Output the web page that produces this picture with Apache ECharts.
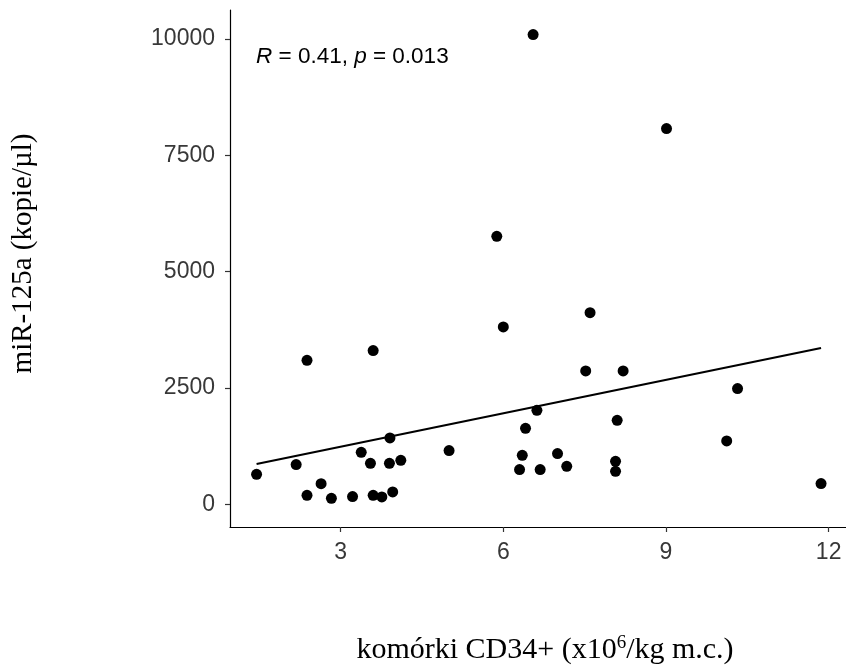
<!DOCTYPE html>
<html>
<head>
<meta charset="utf-8">
<script src="https://cdn.jsdelivr.net/npm/echarts@6/dist/echarts.min.js"></script>
<style>html,body{margin:0;padding:0;background:#fff}#c{width:846px;height:670px}</style>
</head>
<body>
<div id="c"></div>
<script>
// CD34+ cells (x10^6/kg) and miR-125a (copies/µl)
const cd34 = [1.45, 2.18, 2.38, 2.38, 2.64, 2.83, 3.22, 3.38, 3.55, 3.60, 3.60, 3.76, 3.90, 3.91, 3.96, 4.11, 5.00, 5.88, 6.00, 6.30, 6.35, 6.41, 6.55, 6.62, 6.68, 7.00, 7.17, 7.52, 7.60, 8.07, 8.07, 8.10, 8.21, 9.01, 10.12, 10.32, 11.86];
const mir125a = [645, 853, 3095, 193, 444, 129, 165, 1118, 881, 3304, 193, 158, 881, 1426, 265, 946, 1154, 5761, 3812, 746, 1053, 1634, 10097, 2021, 746, 1090, 817, 2866, 4120, 924, 709, 1806, 2866, 8076, 1361, 2487, 445];
// regression line endpoints
const fitX = [1.45, 11.86];
const fitY = [867, 3360];
const xTicks = [3, 6, 9, 12];
const yTicks = [0, 2500, 5000, 7500, 10000];
const annotation = ['R', ' = 0.41, ', 'p', ' = 0.013'];

const points = cd34.map((x, i) => [x, mir125a[i]]);
const fitLine = fitX.map((x, i) => [x, fitY[i]]);

const chart = echarts.init(document.getElementById('c'), null, {renderer: 'canvas'});
const sans = 'Liberation Sans, Arial, sans-serif';
const serif = 'Liberation Serif, Times New Roman, serif';
chart.setOption({
  animation: false,
  backgroundColor: '#fff',
  grid: {left: 230, right: 0, top: 10, bottom: 143, outerBoundsMode: 'none', containLabel: false},
  xAxis: {
    type: 'value', min: 0.96, max: 12.32,
    axisLine: {show: true, onZero: false, lineStyle: {color: '#000', width: 1.2}},
    axisTick: {show: true, length: 5, lineStyle: {color: '#333', width: 1.2}, customValues: xTicks},
    axisLabel: {customValues: xTicks, margin: 14, fontSize: 23, fontFamily: sans, color: '#383838',
      formatter: v => String(v)},
    splitLine: {show: false},
    name: '{a|komórki CD34+ (x10}{s|6}{a|/kg m.c.)}',
    nameLocation: 'middle', nameGap: 106,
    nameTextStyle: {
      padding: [0, 0, 0, 14],
      rich: {
        a: {fontSize: 30, fontFamily: serif, color: '#000', lineHeight: 34},
        s: {fontSize: 19, fontFamily: serif, color: '#000', lineHeight: 34, padding: [0, 0, 14, 0]}
      }
    }
  },
  yAxis: {
    type: 'value', min: -488, max: 10625,
    axisLine: {show: true, onZero: false, lineStyle: {color: '#000', width: 1.2}},
    axisTick: {show: true, length: 5, lineStyle: {color: '#333', width: 1.2}, customValues: yTicks},
    axisLabel: {customValues: yTicks, margin: 15, fontSize: 23, fontFamily: sans, color: '#383838',
      formatter: v => String(v)},
    splitLine: {show: false},
    name: 'miR-125a (kopie/µl)',
    nameLocation: 'middle', nameGap: 192, nameRotate: 90,
    nameTextStyle: {fontSize: 29, fontFamily: serif, color: '#000', padding: [0, 0, 0, 30]}
  },
  graphic: [{
    type: 'text', left: 256, top: 45,
    style: {
      text: '{i|' + annotation[0] + '}{n|' + annotation[1] + '}{i|' + annotation[2] + '}{n|' + annotation[3] + '}',
      rich: {
        i: {fontSize: 22.5, fontFamily: sans, fontStyle: 'italic', fill: '#000'},
        n: {fontSize: 22.5, fontFamily: sans, fill: '#000'}
      }
    }
  }],
  series: [{
    type: 'line', data: fitLine, symbol: 'none',
    lineStyle: {color: '#000', width: 2.2}, z: 2, silent: true
  }, {
    type: 'scatter', data: points, symbol: 'circle', symbolSize: 11,
    itemStyle: {color: '#000', opacity: 1}, z: 3
  }]
});
</script>
</body>
</html>
